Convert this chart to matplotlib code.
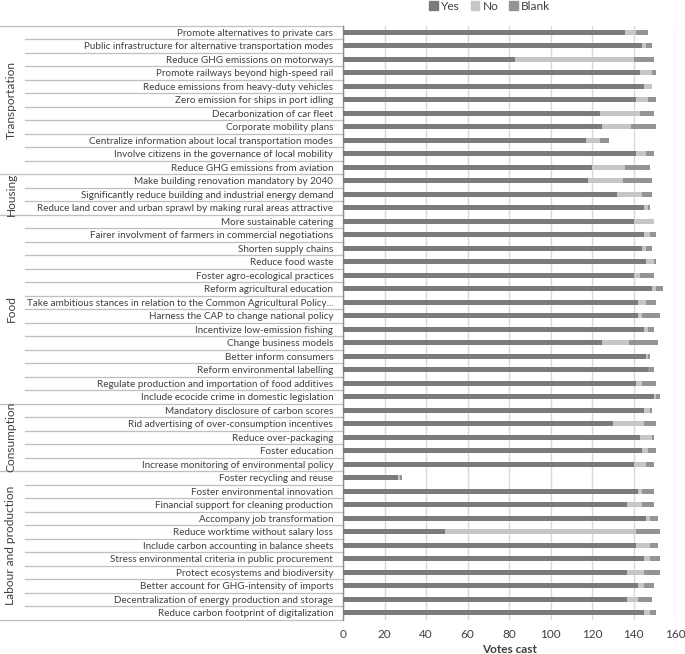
import matplotlib
matplotlib.use("Agg")
import matplotlib.pyplot as plt
import matplotlib.transforms as mtransforms
from matplotlib.patches import Patch
import numpy as np

labels = [
    "Promote alternatives to private cars",
    "Public infrastructure for alternative transportation modes",
    "Reduce GHG emissions on motorways",
    "Promote railways beyond high-speed rail",
    "Reduce emissions from heavy-duty vehicles",
    "Zero emission for ships in port idling",
    "Decarbonization of car fleet",
    "Corporate mobility plans",
    "Centralize information about local transportation modes",
    "Involve citizens in the governance of local mobility",
    "Reduce GHG emissions from aviation",
    "Make building renovation mandatory by 2040",
    "Significantly reduce building and industrial energy demand",
    "Reduce land cover and urban sprawl by making rural areas attractive",
    "More sustainable catering",
    "Fairer involvment of farmers in commercial negotiations",
    "Shorten supply chains",
    "Reduce food waste",
    "Foster agro-ecological practices",
    "Reform agricultural education",
    "Take ambitious stances in relation to the Common Agricultural Policy...",
    "Harness the CAP to change national policy",
    "Incentivize low-emission fishing",
    "Change business models",
    "Better inform consumers",
    "Reform environmental labelling",
    "Regulate production and importation of food additives",
    "Include ecocide crime in domestic legislation",
    "Mandatory disclosure of carbon scores",
    "Rid advertising of over-consumption incentives",
    "Reduce over-packaging",
    "Foster education",
    "Increase monitoring of environmental policy",
    "Foster recycling and reuse",
    "Foster environmental innovation",
    "Financial support for cleaning production",
    "Accompany job transformation",
    "Reduce worktime without salary loss",
    "Include carbon accounting in balance sheets",
    "Stress environmental criteria in public procurement",
    "Protect ecosystems and biodiversity",
    "Better account for GHG-intensity of imports",
    "Decentralization of energy production and storage",
    "Reduce carbon footprint of digitalization",
]

groups = ["Transportation", "Housing", "Food", "Consumption", "Labour and production"]
group_sizes = [11, 3, 14, 5, 11]

yes = [136, 144, 83, 143, 145, 141, 124, 125, 117, 141, 120,
       118, 132, 145,
       140, 145, 144, 146, 140, 149, 142, 142, 145, 125, 146, 147, 141, 150,
       145, 130, 143, 144, 140,
       26.5, 142, 137, 146, 49, 141, 145, 137, 142, 137, 145]
no = [5, 2, 57, 6, 4, 6, 19, 14, 7, 5, 16,
      17, 12, 2,
      10, 3, 2, 4, 3, 2, 4, 2, 2, 13, 1, 0, 3, 1,
      3, 15, 6, 3, 6,
      1, 2, 7, 2, 92, 7, 3, 8, 3, 5, 3]
blank = [6, 3, 10, 2, 0, 4, 7, 12, 4, 4, 12,
         14, 5, 1,
         0, 3, 3, 1, 7, 3, 5, 9, 3, 14, 1, 3, 7, 2,
         1, 6, 1, 4, 4,
         1, 6, 6, 4, 12, 4, 5, 8, 5, 7, 3]

xticks = [0, 20, 40, 60, 80, 100, 120, 140, 160]

c_yes, c_no, c_blank = "#7b7b7b", "#c6c6c6", "#949494"
txt = "#404040"
font = "Lato"

W, H = 685, 654
fig = plt.figure(figsize=(W / 100, H / 100), dpi=100)
ax = fig.add_axes([343 / W, 1 - 619.5 / H, (675 - 343) / W, (619.5 - 25.5) / H])

n = len(labels)
y = np.arange(n)
yes_a, no_a, blank_a = np.array(yes), np.array(no), np.array(blank)
bh = 0.4
ax.barh(y, yes_a, height=bh, color=c_yes, label="Yes", zorder=3)
ax.barh(y, no_a, left=yes_a, height=bh, color=c_no, label="No", zorder=3)
ax.barh(y, blank_a, left=yes_a + no_a, height=bh, color=c_blank, label="Blank", zorder=3)

ax.set_ylim(n - 0.5, -0.5)
ax.set_xlim(0, 160)
ax.set_xticks(xticks)
ax.set_xticklabels([str(t) for t in xticks], fontsize=8.5, family=font, color=txt)
ax.tick_params(axis="x", length=0, pad=7)
ax.set_yticks(y)
ax.set_yticklabels(labels, fontsize=7.2, family=font, color=txt)
ax.tick_params(axis="y", length=0, pad=7)
ax.grid(axis="x", color="#d9d9d9", linewidth=1, zorder=0)
for s in ["top", "right", "bottom"]:
    ax.spines[s].set_visible(False)
ax.spines["left"].set_color("#8c8c8c")
ax.spines["left"].set_linewidth(1)
ax.set_xlabel("Votes cast", fontsize=8.5, family=font, fontweight="bold", color=txt, labelpad=3)

# fit label font size to reference width (~306 px for the longest)
fig.canvas.draw()
r = fig.canvas.get_renderer()
wmax = max(t.get_window_extent(r).width for t in ax.get_yticklabels())
fs = 7.2 * 308 / wmax
for t in ax.get_yticklabels():
    t.set_fontsize(fs)

# separator lines in label area
tr = mtransforms.blended_transform_factory(fig.transFigure, ax.transData)
bounds = np.cumsum([0] + group_sizes)
group_edges = set(bounds.tolist())
for i in range(n + 1):
    x0 = 0 if i in group_edges else 25 / W
    ax.plot([x0, 343 / W], [i - 0.5, i - 0.5], transform=tr, color="#bfbfbf",
            linewidth=0.9, clip_on=False, zorder=1)

# group labels
for g, s0, s1 in zip(groups, bounds[:-1], bounds[1:]):
    ax.text(11 / W, (s0 + s1 - 1) / 2, g, transform=tr, rotation=90,
            ha="center", va="center", fontsize=8.6, family=font, color=txt)

handles = [Patch(color=c_yes, label="Yes"), Patch(color=c_no, label="No"),
           Patch(color=c_blank, label="Blank")]
fig.legend(handles=handles, loc="center", bbox_to_anchor=(490 / W, 1 - 6 / H), ncol=3,
           frameon=False, prop={"family": font, "size": 8.6}, handlelength=0.7,
           handleheight=0.7, handletextpad=0.3, columnspacing=0.9, labelcolor=txt)

fig.savefig("out.png", dpi=100)
